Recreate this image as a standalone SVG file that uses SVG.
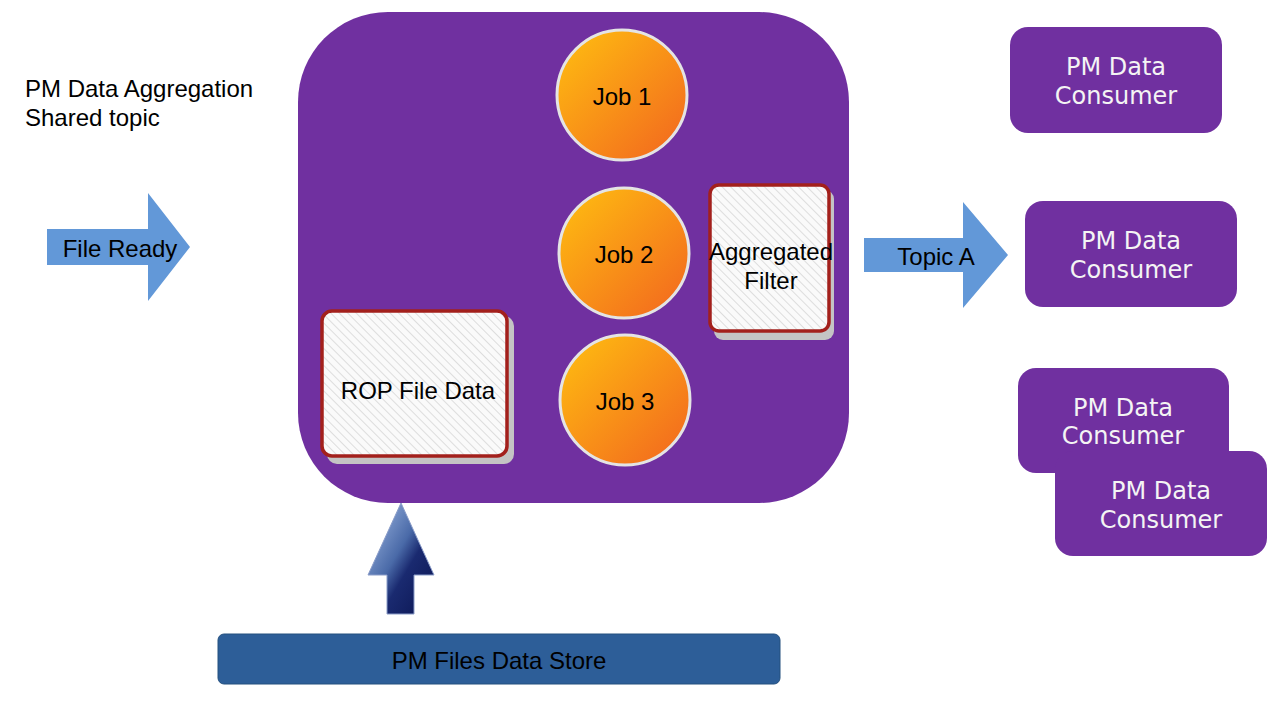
<svg xmlns="http://www.w3.org/2000/svg" width="1280" height="720" viewBox="0 0 1280 720">
<defs>
<linearGradient id="orange" x1="0" y1="0" x2="1" y2="1">
<stop offset="0" stop-color="#FFC010"/>
<stop offset="1" stop-color="#F2641F"/>
</linearGradient>
<linearGradient id="navy" x1="0" y1="0" x2="1" y2="1">
<stop offset="0" stop-color="#A8C0E8"/>
<stop offset="0.45" stop-color="#4A6AA8"/>
<stop offset="0.6" stop-color="#1A2A70"/>
<stop offset="1" stop-color="#0A1450"/>
</linearGradient>
<pattern id="hatch" width="6" height="6" patternUnits="userSpaceOnUse" patternTransform="rotate(-45)">
<rect width="6" height="6" fill="#FAFAFA"/>
<line x1="0" y1="0" x2="0" y2="6" stroke="#DDDDDD" stroke-width="2"/>
</pattern>
<style>
.t{font-family:"Liberation Sans",Arial,sans-serif;font-size:24px;fill:#000;}
.c{font-family:"DejaVu Sans",sans-serif;font-size:24px;fill:#F4F4F4;text-anchor:middle;}
.m{text-anchor:middle;}
.cons{fill:#7030A0;}
.job{fill:url(#orange);stroke:#E4E4E4;stroke-width:3;}
.box{fill:url(#hatch);stroke:#A3201C;stroke-width:3.5;}
.shadow{fill:#C4C4C4;}
.blue{fill:#6298D8;}
</style>
</defs>

<text class="t" x="25" y="97">PM Data Aggregation</text>
<text class="t" x="25" y="126">Shared topic</text>

<g id="aggregator">
<rect x="298" y="12" width="551" height="491" rx="90" ry="90" fill="#7030A0"/>
</g>

<g id="job1">
<circle class="job" cx="622" cy="95" r="65"/>
<text class="t m" x="622" y="105">Job 1</text>
</g>
<g id="job2">
<circle class="job" cx="624" cy="253" r="65"/>
<text class="t m" x="624" y="263">Job 2</text>
</g>
<g id="job3">
<circle class="job" cx="625" cy="400" r="65"/>
<text class="t m" x="625" y="410">Job 3</text>
</g>

<g id="rop">
<rect class="shadow" x="327" y="316" width="187" height="148" rx="10"/>
<rect class="box" x="322" y="311" width="185" height="145" rx="10"/>
<text class="t m" x="418" y="399">ROP File Data</text>
</g>

<g id="filter">
<rect class="shadow" x="714" y="190" width="120" height="150" rx="9"/>
<rect class="box" x="710" y="185" width="119" height="146" rx="9"/>
<text class="t m" x="771" y="260">Aggregated</text>
<text class="t m" x="771" y="289">Filter</text>
</g>

<g id="consumer1">
<rect class="cons" x="1010" y="27" width="212" height="106" rx="18"/>
<text class="c" x="1116" y="75">PM Data</text>
<text class="c" x="1116" y="104">Consumer</text>
</g>
<g id="consumer2">
<rect class="cons" x="1025" y="201" width="212" height="106" rx="18"/>
<text class="c" x="1131" y="249">PM Data</text>
<text class="c" x="1131" y="278">Consumer</text>
</g>
<g id="consumer3">
<rect class="cons" x="1018" y="368" width="211" height="105" rx="18"/>
<text class="c" x="1123" y="416">PM Data</text>
<text class="c" x="1123" y="444">Consumer</text>
</g>
<g id="consumer4">
<rect class="cons" x="1055" y="451" width="212" height="105" rx="18"/>
<text class="c" x="1161" y="499">PM Data</text>
<text class="c" x="1161" y="528">Consumer</text>
</g>

<g id="datastore">
<rect x="218" y="634" width="562" height="50" rx="6" fill="#2D5E98" stroke="#24507F" stroke-width="1"/>
<text class="t m" x="499" y="669" fill="#0A0A14">PM Files Data Store</text>
</g>

<g id="connectors">
<g id="fileReady">
<polygon class="blue" points="47,229 148,229 148,193 190,247 148,301 148,265 47,265"/>
<text class="t m" x="120" y="257">File Ready</text>
</g>
<g id="topicA">
<polygon class="blue" points="864,238 963,238 963,202 1008,255 963,308 963,272 864,272"/>
<text class="t m" x="936" y="265">Topic A</text>
</g>
<g id="upArrow">
<polygon points="401,503 434,575 414,575 414,614 387,614 387,575 368,575" fill="url(#navy)" stroke="#8A9CC8" stroke-width="1"/>
</g>
</g>
</svg>
